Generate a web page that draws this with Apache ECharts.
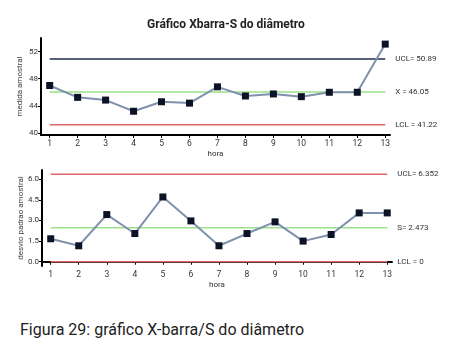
<!DOCTYPE html>
<html><head><meta charset="utf-8">
<script src="https://cdn.jsdelivr.net/npm/echarts@6/dist/echarts.min.js"></script>
<style>html,body{margin:0;padding:0;background:#fff;}#c{width:451px;height:310px;}
#cap{position:absolute;left:20px;top:320px;font-family:Roboto,sans-serif;font-size:16px;color:#222;}</style>
</head><body>
<div id="c"></div>
<div id="cap">Figura 29: gráfico X-barra/S do diâmetro</div>
<script>
const hours = [1,2,3,4,5,6,7,8,9,10,11,12,13];
const xbar = [47.0,45.25,44.85,43.2,44.6,44.4,46.8,45.45,45.75,45.35,46.0,46.0,53.1];
const sdev = [1.67,1.16,3.43,2.05,4.71,2.97,1.16,2.05,2.9,1.5,1.98,3.55,3.55];
const xbarLimits = {ucl:50.89, center:46.05, lcl:41.22};
const sLimits = {ucl:6.352, center:2.473, lcl:0};
const xbarTicks = [40,44,48,52];
const sTicks = [0,1.5,3,4.5,6];

const font = 'Roboto';
function xAxis(gi){
  return {type:'value', gridIndex:gi, min:0.69, max:13.17, name:'hora', nameLocation:'middle', nameGap:15,
    nameMoveOverlap:false,
    nameTextStyle:{fontFamily:font,fontSize:8,color:'#333'},
    axisLine:{lineStyle:{color:'#000',width:2}}, splitLine:{show:false},
    axisTick:{customValues:hours,length:3,lineStyle:{color:'#000'}},
    axisLabel:{customValues:hours,fontFamily:font,fontSize:8.5,color:'#333',margin:4}};
}
function yAxis(gi,min,max,ticks,name,fmt){
  return {type:'value', gridIndex:gi, min:min, max:max, name:name, nameLocation:'middle', nameGap:17,
    nameMoveOverlap:false,
    nameTextStyle:{fontFamily:font,fontSize:8,color:'#444'},
    axisLine:{show:true,lineStyle:{color:'#000',width:2}}, splitLine:{show:false},
    axisTick:{show:true,customValues:ticks,length:3,lineStyle:{color:'#000'}},
    axisLabel:{customValues:ticks,fontFamily:font,fontSize:8,color:'#333',margin:3,formatter:fmt}};
}
function limitLine(gi,v,color,label){
  return {type:'line', xAxisIndex:gi, yAxisIndex:gi, data:[[hours[0],v],[hours[hours.length-1],v]],
    symbol:'none', lineStyle:{color:color,width:1.5}, silent:true, z:1,
    endLabel:{show:true,formatter:label,fontFamily:font,fontSize:8,color:'#333',distance:10}};
}
function dataSeries(gi,vals){
  return {type:'line', xAxisIndex:gi, yAxisIndex:gi, data:hours.map((h,i)=>[h,vals[i]]),
    symbol:'rect', symbolSize:7, itemStyle:{color:'#0d1326'}, lineStyle:{color:'#7f91ad',width:2}, z:3};
}
const chart = echarts.init(document.getElementById('c'));
chart.setOption({
  animation:false,
  title:{text:'Gráfico Xbarra-S do diâmetro', left:142, top:14,
    textStyle:{fontFamily:font,fontSize:12,fontWeight:'bold',color:'#222'}},
  grid:[{left:41,top:38,width:349,height:97},{left:42,top:170,width:350,height:96}],
  xAxis:[xAxis(0),xAxis(1)],
  yAxis:[yAxis(0,39.7,54,xbarTicks,'medida amostral',v=>String(v)),
         yAxis(1,-0.31,6.67,sTicks,'desvio padrao amostral',v=>v.toFixed(1))],
  series:[
    limitLine(0,xbarLimits.ucl,'#1f2d4a','UCL= '+xbarLimits.ucl),
    limitLine(0,xbarLimits.center,'#9be08a','X = '+xbarLimits.center),
    limitLine(0,xbarLimits.lcl,'#e06767','LCL = '+xbarLimits.lcl),
    dataSeries(0,xbar),
    limitLine(1,sLimits.ucl,'#e06767','UCL= '+sLimits.ucl),
    limitLine(1,sLimits.center,'#9be08a','S= '+sLimits.center),
    limitLine(1,sLimits.lcl,'#e06767','LCL = '+sLimits.lcl),
    dataSeries(1,sdev)
  ]
});
</script>
</body></html>
